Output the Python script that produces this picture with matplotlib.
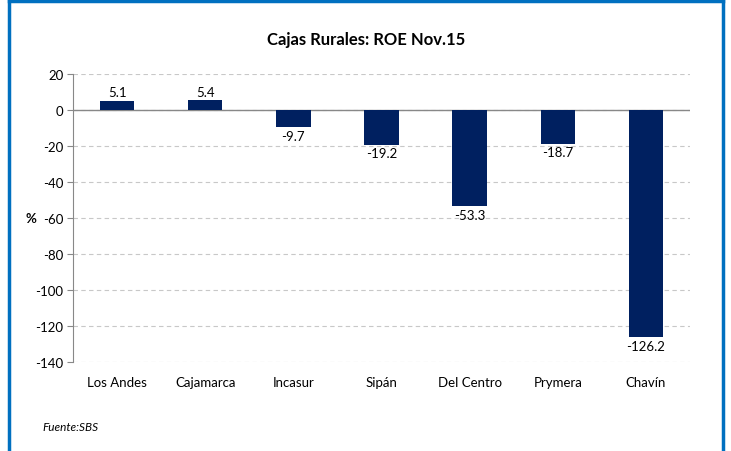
import matplotlib
matplotlib.use("Agg")
import matplotlib.pyplot as plt
from matplotlib.lines import Line2D

categories = ["Los Andes", "Cajamarca", "Incasur", "Sipán", "Del Centro", "Prymera", "Chavín"]
values = [5.1, 5.4, -9.7, -19.2, -53.3, -18.7, -126.2]
yticks = [20, 0, -20, -40, -60, -80, -100, -120, -140]

plt.rcParams['font.family'] = ['Lato', 'DejaVu Sans']

fig = plt.figure(figsize=(7.31, 4.52), dpi=100)
ax = fig.add_axes([73/731, 1-363/452, (690-73)/731, (363-75)/452])

x = list(range(len(categories)))
ax.bar(x, values, width=0.39, color="#002060", zorder=3)
for xi, v in zip(x, values):
    if v >= 0:
        ax.text(xi, v + 1.5, f"{v:.1f}", ha="center", va="bottom", fontsize=9.5, color="#000000")
    else:
        ax.text(xi, v - 1.5, f"{v:.1f}", ha="center", va="top", fontsize=9.5, color="#000000")

ax.set_xlim(-0.5, 6.5)
ax.set_ylim(-140, 20)
ax.set_yticks(yticks)
ax.set_yticklabels([str(t) for t in yticks], fontsize=9.5)
ax.set_xticks(x)
ax.set_xticklabels(categories, fontsize=9.5)
ax.tick_params(axis="x", length=0, pad=10)
ax.tick_params(axis="y", length=4, color="#888888", direction="out", pad=3)
ax.grid(axis="y", linestyle=(0, (4, 3)), color="#c8c8c8", linewidth=0.8, zorder=0)
ax.axhline(0, color="#888888", linewidth=1.0, zorder=2)
for s in ["top", "right", "bottom"]:
    ax.spines[s].set_visible(False)
ax.spines["left"].set_color("#888888")

fig.text(31/731, 1-219/452, "%", ha="center", va="center", fontsize=9.5, fontweight="bold")
fig.text(366/731, 1-40/452, "Cajas Rurales: ROE Nov.15", ha="center", va="center",
         fontsize=12, fontweight="bold")
fig.text(42/731, 1-428/452, "Fuente:SBS", ha="left", va="center", fontsize=8.5, style="italic")

blue = "#0070C0"
fig.add_artist(Line2D([9/731, 9/731], [0, 1-2/452], transform=fig.transFigure, color=blue, linewidth=2.5))
fig.add_artist(Line2D([723/731, 723/731], [0, 1-2/452], transform=fig.transFigure, color=blue, linewidth=2.5))
fig.add_artist(Line2D([9/731, 723/731], [1-2/452, 1-2/452], transform=fig.transFigure, color=blue, linewidth=2.5))

fig.savefig("out.png", dpi=100)
